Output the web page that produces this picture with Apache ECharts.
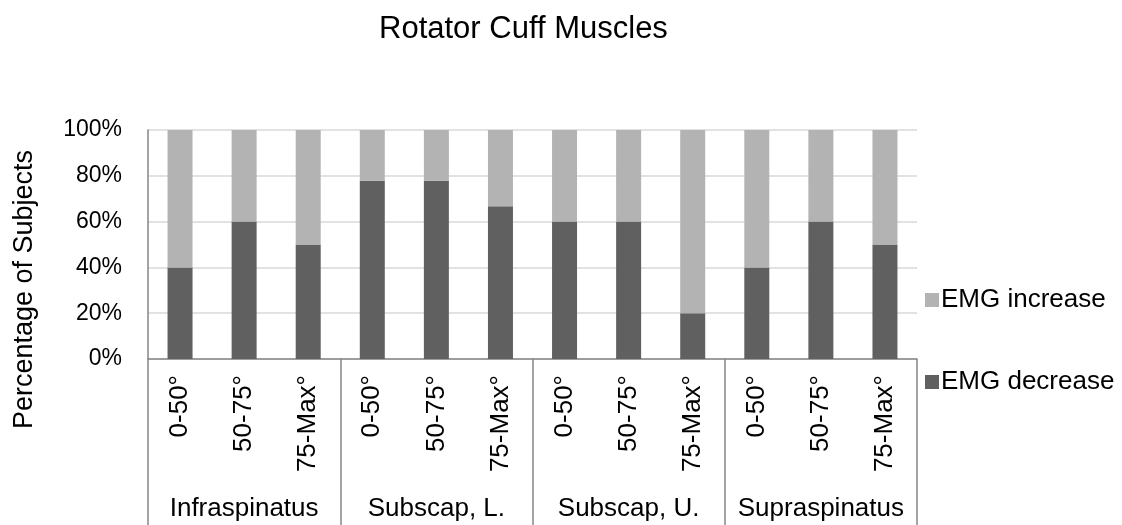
<!DOCTYPE html>
<html>
<head>
<meta charset="utf-8">
<script src="https://cdn.jsdelivr.net/npm/echarts@6/dist/echarts.min.js"></script>
<style>
html, body { margin: 0; padding: 0; background: #fff; }
#chart { width: 1122px; height: 525px; }
</style>
</head>
<body>
<div id="chart"></div>
<script>
var muscles = ['Infraspinatus', 'Subscap, L.', 'Subscap, U.', 'Supraspinatus'];
var ranges = ['0-50°', '50-75°', '75-Max°',
              '0-50°', '50-75°', '75-Max°',
              '0-50°', '50-75°', '75-Max°',
              '0-50°', '50-75°', '75-Max°'];
var emgDecrease = [40, 60, 50, 77.8, 77.8, 66.7, 60, 60, 20, 40, 60, 50];
var emgIncrease = [60, 40, 50, 22.2, 22.2, 33.3, 40, 40, 80, 60, 40, 50];
var yTicks = [0, 20, 40, 60, 80, 100];

var font = 'Liberation Sans, Arial, sans-serif';
var axisGrey = '#868686';

var option = {
    animation: false,
    backgroundColor: '#fff',
    textStyle: { fontFamily: font, color: '#000' },
    title: {
        text: 'Rotator Cuff Muscles',
        left: 374,
        top: 9,
        textStyle: { fontFamily: font, fontSize: 31, fontWeight: 'normal', color: '#000' }
    },
    legend: {
        orient: 'vertical',
        left: 920,
        top: 282,
        itemWidth: 14,
        itemHeight: 14,
        itemGap: 56,
        icon: 'rect',
        data: ['EMG increase', 'EMG decrease'],
        textStyle: { fontFamily: font, fontSize: 26, lineHeight: 26, color: '#000', padding: [0, 0, 0, -3] }
    },
    grid: { left: 148, right: 205, top: 130, bottom: 166 },
    xAxis: [
        {
            type: 'category',
            data: ranges,
            axisLine: { lineStyle: { color: axisGrey, width: 1.5 } },
            axisTick: { show: false },
            axisLabel: { rotate: 90, margin: 16, fontSize: 26, color: '#000', fontFamily: font, interval: 0 }
        },
        {
            type: 'category',
            data: muscles,
            position: 'bottom',
            axisLine: { show: false },
            axisTick: { show: true, length: 166, lineStyle: { color: axisGrey, width: 1.5 } },
            axisLabel: { margin: 137, fontSize: 26, color: '#000', fontFamily: font, interval: 0 }
        }
    ],
    yAxis: {
        type: 'value',
        min: yTicks[0],
        max: yTicks[yTicks.length - 1],
        interval: 20,
        name: 'Percentage of Subjects',
        nameLocation: 'middle',
        nameGap: 110,
        nameTextStyle: { fontFamily: font, fontSize: 27, color: '#000', padding: [0, 90, 0, 0] },
        axisLine: { show: true, lineStyle: { color: axisGrey, width: 1.5 } },
        axisTick: { show: false },
        axisLabel: { formatter: '{value}%', fontSize: 23, color: '#000', fontFamily: font, margin: 26 },
        splitLine: { lineStyle: { color: '#d9d9d9', width: 1.5 } }
    },
    series: [
        {
            name: 'EMG decrease',
            type: 'bar',
            stack: 'pct',
            barWidth: 25,
            itemStyle: { color: '#606060' },
            data: emgDecrease
        },
        {
            name: 'EMG increase',
            type: 'bar',
            stack: 'pct',
            barWidth: 25,
            itemStyle: { color: '#b3b3b3' },
            data: emgIncrease
        }
    ]
};

var chart = echarts.init(document.getElementById('chart'), null, { renderer: 'canvas' });
chart.setOption(option);
</script>
</body>
</html>
